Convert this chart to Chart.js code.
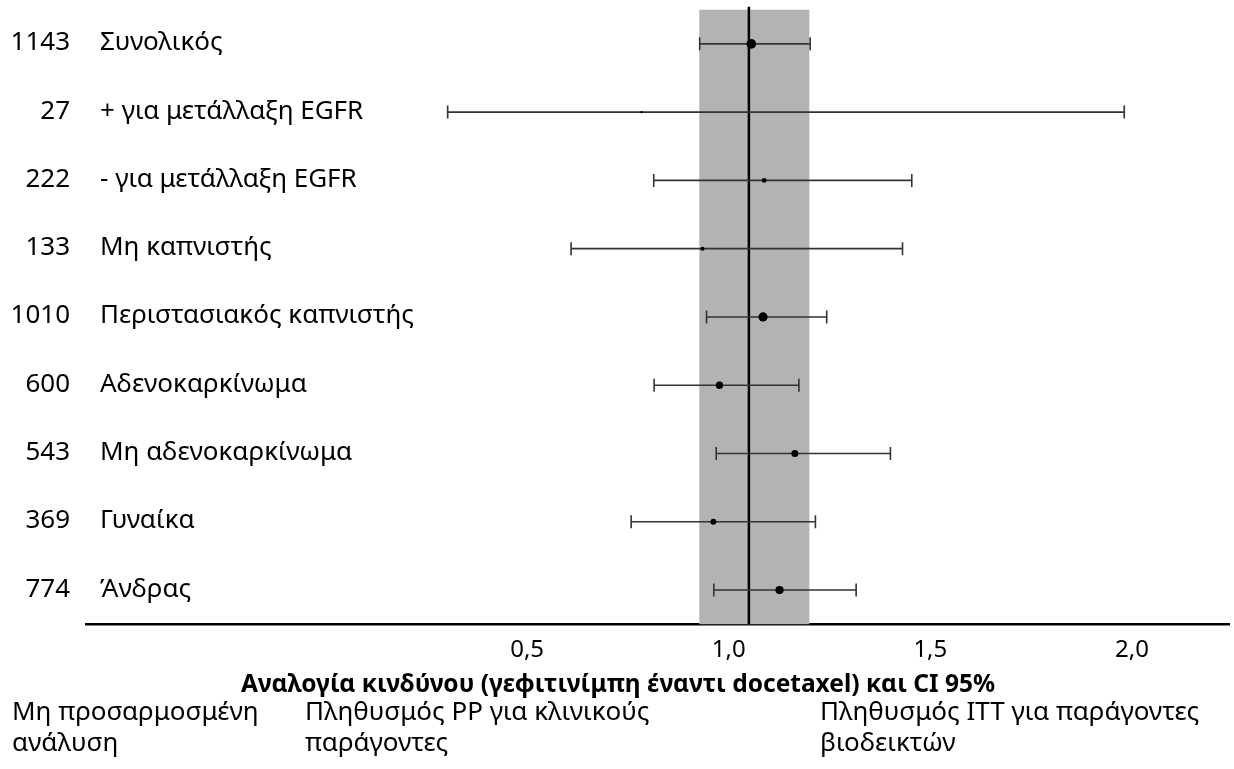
<!DOCTYPE html>
<html>
<head>
<meta charset="utf-8">
<script src="https://cdn.jsdelivr.net/npm/chart.js@4.4.1/dist/chart.umd.min.js"></script>
<style>
  html, body { margin: 0; padding: 0; background: #ffffff; }
  #wrap { position: relative; width: 1234px; height: 769px; }
</style>
</head>
<body>
<div id="wrap"><canvas id="c" width="1234" height="769"></canvas></div>
<script>
// ---- data ----
const sampleSizes = [1143, 27, 222, 133, 1010, 600, 543, 369, 774];
const subgroups = ["Συνολικός", "+ για μετάλλαξη EGFR", "- για μετάλλαξη EGFR", "Μη καπνιστής",
  "Περιστασιακός καπνιστής", "Αδενοκαρκίνωμα", "Μη αδενοκαρκίνωμα", "Γυναίκα", "Άνδρας"];
const hazardRatio = [1.056, 0.784, 1.088, 0.935, 1.085, 0.977, 1.164, 0.962, 1.126];
const ciLower = [0.928, 0.303, 0.814, 0.609, 0.945, 0.815, 0.969, 0.758, 0.963];
const ciUpper = [1.202, 1.981, 1.454, 1.431, 1.243, 1.174, 1.401, 1.215, 1.316];
const overallBand = [0.927, 1.200];
const referenceLine = [1.05];
const tickValues = [0.5, 1.0, 1.5, 2.0];
const tickLabels = ["0,5", "1,0", "1,5", "2,0"];
const axisTitle = "Αναλογία κινδύνου (γεφιτινίμπη έναντι docetaxel) και CI 95%";
const analysisLabels = [
  ["Μη προσαρμοσμένη", "ανάλυση"],
  ["Πληθυσμός PP για κλινικούς", "παράγοντες"],
  ["Πληθυσμός ITT για παράγοντες", "βιοδεικτών"]
];

const FONT = "'Noto Sans', 'Open Sans', sans-serif";
const FS = 26;

const forestPlugin = {
  id: 'forest',
  beforeDatasetsDraw(chart) {
    const { ctx, chartArea: a, scales: { x, y } } = chart;
    ctx.save();
    // overall CI band
    const b0 = x.getPixelForValue(overallBand[0]);
    const b1 = x.getPixelForValue(overallBand[1]);
    ctx.fillStyle = '#b3b3b3';
    ctx.fillRect(b0, a.top, b1 - b0, a.bottom - a.top);
    // reference line
    const rx = x.getPixelForValue(referenceLine[0]);
    ctx.strokeStyle = '#000';
    ctx.lineWidth = 2.5;
    ctx.beginPath();
    ctx.moveTo(rx, a.top - 3);
    ctx.lineTo(rx, a.bottom);
    ctx.stroke();
    // whiskers
    ctx.strokeStyle = '#333';
    ctx.lineWidth = 1.6;
    subgroups.forEach((g, i) => {
      const yy = y.getPixelForValue(i);
      const l = x.getPixelForValue(ciLower[i]);
      const u = x.getPixelForValue(ciUpper[i]);
      ctx.beginPath();
      ctx.moveTo(l, yy); ctx.lineTo(u, yy);
      ctx.moveTo(l, yy - 6.5); ctx.lineTo(l, yy + 6.5);
      ctx.moveTo(u, yy - 6.5); ctx.lineTo(u, yy + 6.5);
      ctx.stroke();
    });
    ctx.restore();
  },
  afterDraw(chart) {
    const { ctx, scales: { y } } = chart;
    ctx.save();
    ctx.fillStyle = '#000';
    ctx.font = FS + 'px ' + FONT;
    ctx.textBaseline = 'alphabetic';
    subgroups.forEach((g, i) => {
      const yy = y.getPixelForValue(i) + 6.5;
      ctx.textAlign = 'right';
      ctx.fillText(String(sampleSizes[i]), 70, yy);
      ctx.textAlign = 'left';
      ctx.fillText(g, 100, yy);
    });
    // axis title
    ctx.font = 'bold 24.5px ' + FONT;
    ctx.textAlign = 'center';
    ctx.fillText(axisTitle, 618, 692);
    // analysis labels
    ctx.font = FS + 'px ' + FONT;
    ctx.textAlign = 'left';
    const xs = [12, 305, 820];
    analysisLabels.forEach((lines, k) => {
      lines.forEach((t, j) => ctx.fillText(t, xs[k], 720 + j * 31));
    });
    ctx.restore();
  }
};

new Chart(document.getElementById('c'), {
  type: 'scatter',
  data: {
    labels: subgroups,
    datasets: [{
      data: hazardRatio.map((v, i) => ({ x: v, y: i })),
      pointRadius: sampleSizes.map(n => 0.5 + 0.13 * Math.sqrt(n)),
      pointBackgroundColor: '#000',
      pointBorderColor: '#000',
      pointBorderWidth: 0,
      showLine: false
    }]
  },
  options: {
    responsive: false,
    animation: false,
    events: [],
    layout: { padding: { left: 86, right: 0, top: 9.7, bottom: 92 } },
    plugins: { legend: { display: false }, tooltip: { enabled: false } },
    scales: {
      x: {
        type: 'linear',
        min: -0.594, max: 2.241,
        afterBuildTicks: s => { s.ticks = tickValues.map(v => ({ value: v })); },
        ticks: {
          callback: (v) => tickLabels[tickValues.indexOf(v)] ?? '',
          font: { family: FONT, size: 24 }, color: '#000', padding: 12, maxRotation: 0, autoSkip: false
        },
        grid: { display: false, drawTicks: false },
        border: { display: true, color: '#000', width: 2.5 }
      },
      y: {
        type: 'linear',
        min: -0.5, max: 8.5, reverse: true,
        display: false
      }
    }
  },
  plugins: [forestPlugin]
});
</script>
</body>
</html>
